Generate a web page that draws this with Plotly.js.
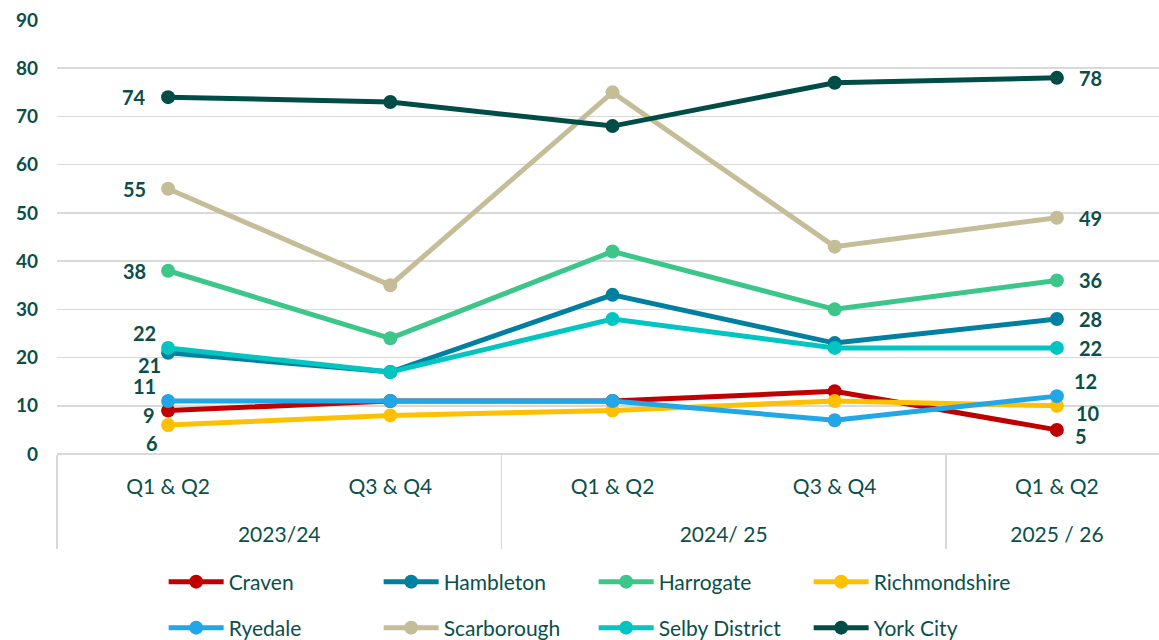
<!DOCTYPE html>
<html><head><meta charset="utf-8">
<script src="https://cdn.plot.ly/plotly-3.0.1.min.js"></script>
<style>html,body{margin:0;padding:0;overflow:hidden;background:#fff}</style>
</head><body><div id="chart"></div>
<script>
const years = ["2023/24","2023/24","2024/ 25","2024/ 25","2025 / 26"];
const periods = ["Q1 & Q2","Q3 & Q4","Q1 & Q2","Q3 & Q4","Q1 & Q2"];
const yearGroups = ["2023/24","2024/ 25","2025 / 26"];
const names = ["Craven","Hambleton","Harrogate","Richmondshire","Ryedale","Scarborough","Selby District","York City"];
const craven = [9,11,11,13,5];
const hambleton = [21,17,33,23,28];
const harrogate = [38,24,42,30,36];
const richmondshire = [6,8,9,11,10];
const ryedale = [11,11,11,7,12];
const scarborough = [55,35,75,43,49];
const selby = [22,17,28,22,22];
const york = [74,73,68,77,78];
const series = [craven,hambleton,harrogate,richmondshire,ryedale,scarborough,selby,york];
const colors = ["#c00000","#0080a0","#3cc68a","#ffc000","#22a7e6","#c4bd97","#00c5c0","#004d47"];
const cats = years.map((y,i)=>y+"|"+periods[i]);
// year group centres / boundaries (in category-index units)
const groupCentres = [];
const groupBounds = [-0.5];
yearGroups.forEach(g=>{
  const idx = years.map((y,i)=>y===g?i:-1).filter(i=>i>=0);
  groupCentres.push((idx[0]+idx[idx.length-1])/2);
  groupBounds.push(idx[idx.length-1]+0.5);
});
// label offsets [first dx, first dy, last dx, last dy] (dy positive = down)
const offs = [
 [-19,4, 24,6],
 [-19,12, 34,0],
 [-34,0, 34,0],
 [-16,18, 31,7],
 [-24,-15, 29,-15],
 [-34,0, 34,0],
 [-24,-15, 34,0],
 [-34,0, 34,0]
];
const txt = "#0b4f4a";
const font = "Lato, 'Liberation Sans', sans-serif";
const traces = series.map((s,i)=>({
  type:"scatter", mode:"lines+markers", name:names[i],
  x:cats, y:s,
  line:{color:colors[i], width:5},
  marker:{color:colors[i], size:14},
  legend: i<4 ? "legend" : "legend2",
  hoverinfo:"skip"
}));
// invisible helper traces so the group-label axis and divider axis are drawn
traces.push({type:"scatter", mode:"none", x:groupCentres, y:groupCentres.map(()=>null),
  xaxis:"x2", yaxis:"y", showlegend:false, hoverinfo:"skip"});
traces.push({type:"scatter", mode:"none", x:groupBounds, y:groupBounds.map(()=>null),
  xaxis:"x3", yaxis:"y", showlegend:false, hoverinfo:"skip"});
const ann = [];
const lf = {family:font,size:20,color:txt,weight:"bold"};
series.forEach((s,i)=>{
  const last = s.length-1;
  ann.push({x:0, y:s[0], xref:"x", yref:"y", text:String(s[0]), showarrow:false,
    xshift:offs[i][0], yshift:-offs[i][1], font:lf});
  ann.push({x:last, y:s[last], xref:"x", yref:"y", text:String(s[last]), showarrow:false,
    xshift:offs[i][2], yshift:-offs[i][3], font:lf});
});
const legBase = {orientation:"h", x:0.096, xanchor:"left", yref:"container", yanchor:"middle",
    entrywidth:145, entrywidthmode:"pixels", itemwidth:55,
    font:{family:font, size:21, color:txt}, bgcolor:"rgba(0,0,0,0)"};
const layout = {
  width:1168, height:640,
  margin:{l:57, r:0, t:20, b:186},
  paper_bgcolor:"#fff", plot_bgcolor:"#fff",
  showlegend:true,
  font:{family:font, color:txt},
  xaxis:{type:"category", categoryorder:"array", categoryarray:cats,
    tickvals:cats, ticktext:periods, showgrid:false, showline:false, zeroline:false,
    ticks:"", ticklabelstandoff:18, automargin:false,
    tickfont:{family:font, size:21, color:txt}, range:[-0.5,4.5]},
  xaxis2:{overlaying:"x", anchor:"y", side:"bottom", type:"linear", range:[-0.5,4.5],
    tickmode:"array", tickvals:groupCentres, ticktext:yearGroups, showgrid:false, zeroline:false,
    showline:false, ticks:"", ticklabelstandoff:66, automargin:false,
    tickfont:{family:font, size:21, color:txt}},
  xaxis3:{overlaying:"x", anchor:"y", side:"bottom", type:"linear", range:[-0.5,4.5],
    tickmode:"array", tickvals:groupBounds, showticklabels:false, showgrid:false, zeroline:false,
    showline:false, ticks:"outside", ticklen:94, tickwidth:1.5, tickcolor:"#d9d9d9", automargin:false},
  yaxis:{range:[0,90], dtick:10, showgrid:true, gridcolor:"#d9d9d9", gridwidth:1.5,
    zeroline:true, zerolinecolor:"#d9d9d9", zerolinewidth:1.5, showline:false, automargin:false,
    ticklabelstandoff:18, tickfont:{family:font, size:19, color:txt, weight:"bold"}},
  legend:Object.assign({}, legBase, {y:1-582/640}),
  legend2:Object.assign({}, legBase, {y:1-628/640}),
  annotations:ann
};
Plotly.newPlot("chart", traces, layout, {displayModeBar:false, staticPlot:true});
</script></body></html>
